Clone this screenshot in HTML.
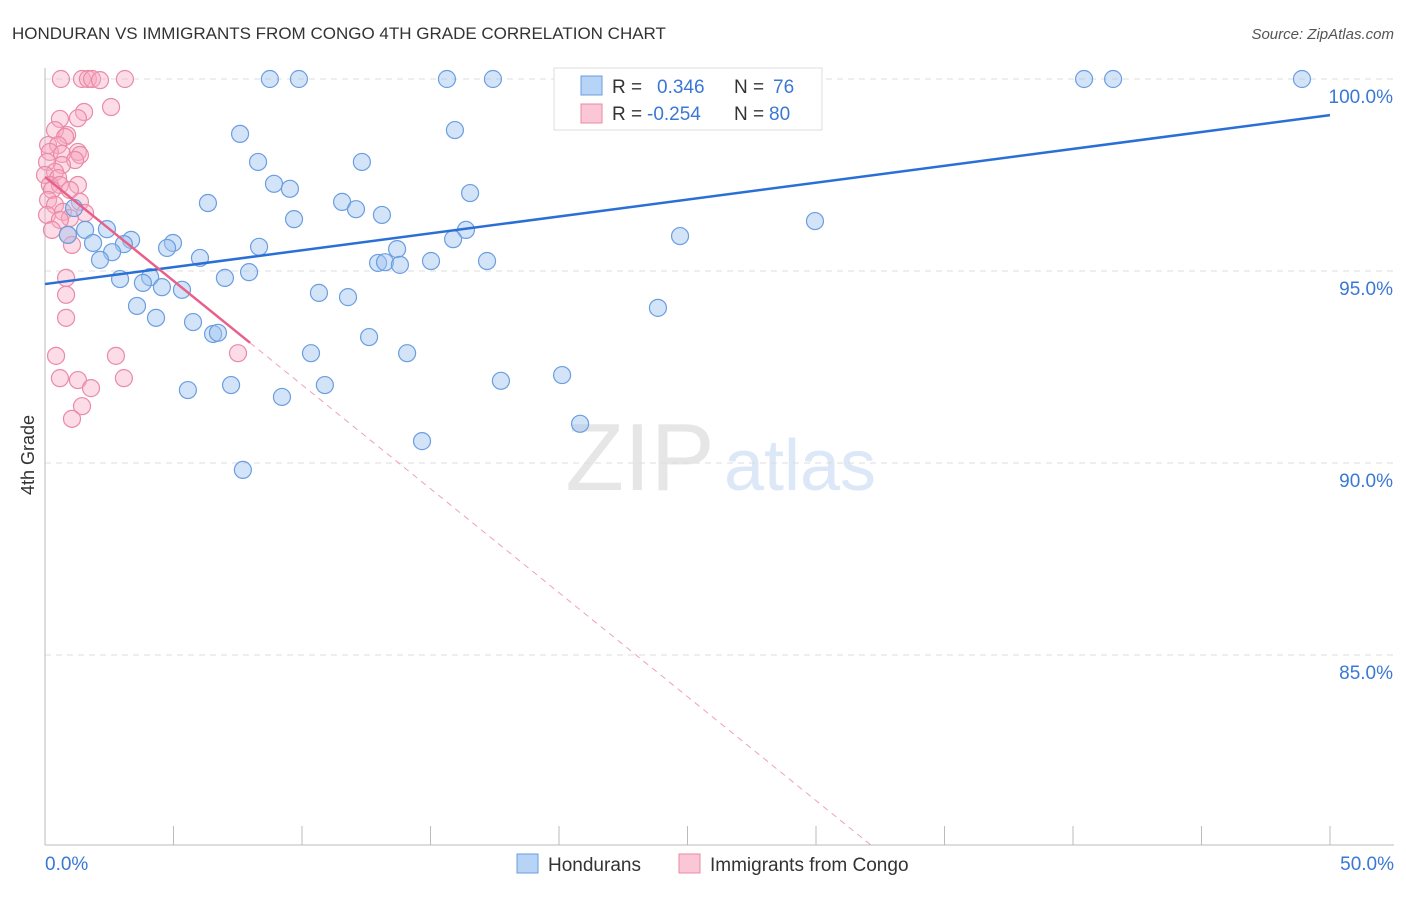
<!DOCTYPE html>
<html><head><meta charset="utf-8"><style>
body{margin:0;background:#fff;font-family:"Liberation Sans",sans-serif;}
svg text{font-family:"Liberation Sans",sans-serif;}
</style></head><body>
<svg id="c" width="1406" height="892">
<text x="12" y="39" font-size="17" fill="#333">HONDURAN VS IMMIGRANTS FROM CONGO 4TH GRADE CORRELATION CHART</text>
<text x="1394" y="39" font-size="15" fill="#555" font-style="italic" text-anchor="end">Source: ZipAtlas.com</text>
<text x="640" y="490" font-size="96" fill="#e6e6e6" font-family="Liberation Serif" text-anchor="middle">ZIP</text>
<text x="800" y="490" font-size="72" fill="#dce8f7" text-anchor="middle">atlas</text>
<text x="34" y="455" font-size="18" fill="#333" transform="rotate(-90 34 455)" text-anchor="middle">4th Grade</text>
<g id="grid"></g><g id="pts"></g><g id="lines"></g>
<g>
<rect x="554" y="68" width="268" height="62" fill="#fff" stroke="#ddd"/>
<rect x="581" y="76" width="21" height="19" fill="#b7d3f5" stroke="#6a9ee0"/>
<rect x="581" y="104" width="21" height="19" fill="#fbc6d5" stroke="#e889a6"/>
<text x="612" y="93" font-size="19" fill="#333">R = </text><text x="657" y="93" font-size="19" fill="#3a78d4">0.346</text>
<text x="734" y="93" font-size="19" fill="#333">N = </text><text x="773" y="93" font-size="19" fill="#3a78d4">76</text>
<text x="612" y="120" font-size="19" fill="#333">R = </text><text x="647" y="120" font-size="19" fill="#3a78d4">-0.254</text>
<text x="734" y="120" font-size="19" fill="#333">N = </text><text x="769" y="120" font-size="19" fill="#3a78d4">80</text>
</g>
<g>
<rect x="517" y="854" width="21" height="19" fill="#b7d3f5" stroke="#6a9ee0"/>
<text x="548" y="871" font-size="19" fill="#333">Hondurans</text>
<rect x="679" y="854" width="21" height="19" fill="#fbc6d5" stroke="#e889a6"/>
<text x="710" y="871" font-size="19" fill="#333">Immigrants from Congo</text>
</g>
</svg>
<script>
const xTicks=[0,5,10,15,20,25,30,35,40,45,50];
const yTicks=[100,95,90,85];
const blueX=[8.75,9.88,15.64,17.43,40.43,41.56,48.91,24.94,28.13,7.59,15.95,8.29,12.33,8.91,9.53,16.54,6.34,11.56,12.10,13.11,9.69,29.96,16.38,15.88,24.71,2.41,1.56,0.89,1.13,3.35,3.07,1.87,4.98,4.75,8.33,2.61,2.14,6.03,13.70,12.96,13.23,13.81,15.02,17.20,7.94,2.92,4.09,3.81,4.55,5.33,7.00,10.66,11.79,3.58,4.32,5.76,6.54,6.73,23.85,12.61,10.35,14.09,7.24,5.56,10.89,9.22,17.74,20.12,20.82,14.67,7.70];
const blueY=[100,100,100,100,100,100,100,100,100,98.57,98.67,97.84,97.84,97.27,97.14,97.03,96.77,96.80,96.61,96.46,96.35,96.30,96.07,95.83,95.91,96.09,96.07,95.94,96.64,95.81,95.70,95.73,95.73,95.60,95.63,95.49,95.29,95.34,95.57,95.21,95.23,95.16,95.26,95.26,94.97,94.79,94.84,94.69,94.58,94.51,94.82,94.43,94.32,94.09,93.78,93.67,93.36,93.39,94.04,93.28,92.86,92.86,92.03,91.90,92.03,91.72,92.14,92.29,91.02,90.57,89.82];
const pinkX=[0.62,1.44,1.67,1.83,3.11,2.14,2.57,1.52,1.28,0.58,0.39,0.86,0.78,0.12,0.51,0.19,0.66,1.28,1.36,1.17,0.66,0.08,0.39,0,0.51,0.19,0.58,1.28,0.97,0.27,0.12,0.39,1.36,0.70,0.08,1.56,0.97,0.58,0.27,0.89,1.05,0.82,0.82,0.82,0.43,2.76,7.51,0.58,3.07,1.28,1.79,1.44,1.05];
const pinkY=[100,100,100,100,100,99.97,99.27,99.14,98.98,98.96,98.67,98.54,98.49,98.28,98.28,98.10,98.05,98.10,98.02,97.89,97.76,97.84,97.58,97.50,97.42,97.24,97.24,97.24,97.11,97.11,96.85,96.72,96.80,96.54,96.46,96.51,96.38,96.33,96.07,95.94,95.68,94.82,94.38,93.78,92.79,92.79,92.86,92.21,92.21,92.16,91.95,91.48,91.15];
const blueFit=[94.66,99.06];
const pinkFit=[97.45,-0.5414];
const sx=v=>45+v/50*1285, sy=v=>79+(100-v)*38.4;
const NS='http://www.w3.org/2000/svg';
function mk(t,a,p){const e=document.createElementNS(NS,t);for(const k in a)e.setAttribute(k,a[k]);p.appendChild(e);return e;}
const g=document.getElementById('grid');
yTicks.forEach(v=>{const l=mk('line',{x1:45,x2:1394,y1:sy(v),y2:sy(v),stroke:'#ddd','stroke-dasharray':'6,5'},g);


const t=mk('text',{x:1393,y:sy(v)+24,'font-size':19,fill:'#3a78d4','text-anchor':'end'},g);t.textContent=v.toFixed(1)+'%';

});
const ax=mk('line',{x1:45,x2:45,y1:68,y2:845,stroke:'#bbb'},g);


const bx=mk('line',{x1:45,x2:1394,y1:845,y2:845,stroke:'#bbb'},g);


xTicks.forEach((v,i)=>{if(i===0)return;const l=mk('line',{x1:sx(v),x2:sx(v),y1:826,y2:845,stroke:'#bbb'},g);

});
[[0,'0.0%','start',45],[50,'50.0%','end',1394]].forEach(a=>{const t=mk('text',{x:a[3],y:870,'font-size':19,fill:'#3a78d4','text-anchor':a[2]},g);t.textContent=a[1];

});
const P=document.getElementById('pts');
pinkX.forEach((x,i)=>{const c=mk('circle',{cx:sx(x),cy:sy(pinkY[i]),r:8.5,fill:'rgba(247,170,195,0.4)',stroke:'#ea8aa8','stroke-width':1.2},P);

});
blueX.forEach((x,i)=>{const c=mk('circle',{cx:sx(x),cy:sy(blueY[i]),r:8.5,fill:'rgba(160,196,240,0.45)',stroke:'#6a9ee0','stroke-width':1.2},P);

});
const L=document.getElementById('lines');
const bl=mk('line',{x1:sx(0),y1:sy(blueFit[0]),x2:sx(50),y2:sy(blueFit[1]),stroke:'#2a6fd6','stroke-width':2.5},L);


const xe=(80-pinkFit[0])/pinkFit[1];
const pl=mk('line',{x1:sx(0),y1:sy(pinkFit[0]),x2:sx(7.98),y2:sy(pinkFit[0]+pinkFit[1]*7.98),stroke:'#e8608a','stroke-width':2.5},L);


const pd=mk('line',{x1:sx(7.98),y1:sy(pinkFit[0]+pinkFit[1]*7.98),x2:sx(xe),y2:sy(80),stroke:'#f0a0b8','stroke-width':1,'stroke-dasharray':'6,5'},L);


</script>
</body></html>
